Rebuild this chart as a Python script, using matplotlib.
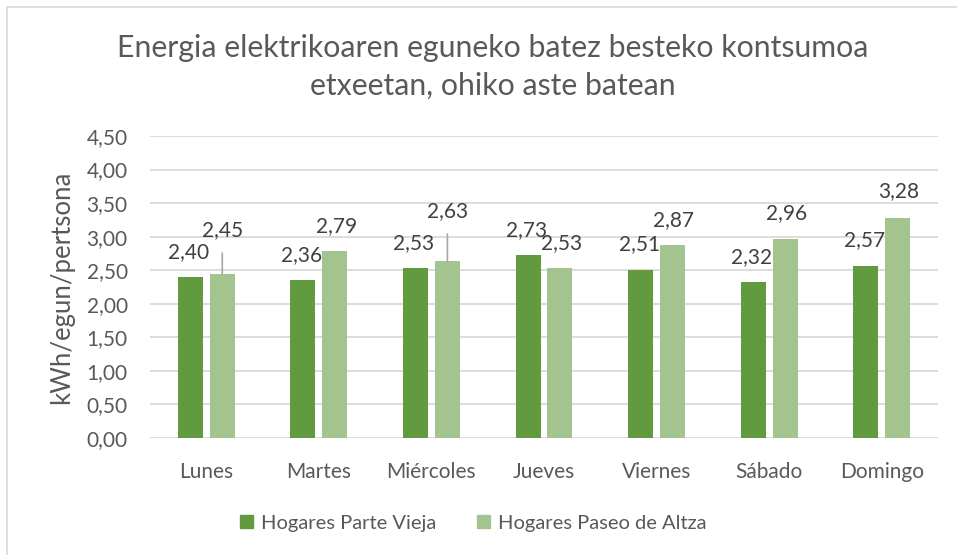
import matplotlib
matplotlib.use("Agg")
import matplotlib.pyplot as plt
from matplotlib.patches import Rectangle, Patch
import numpy as np

# Data
days = ["Lunes", "Martes", "Miércoles", "Jueves", "Viernes", "Sábado", "Domingo"]
parte_vieja = [2.40, 2.36, 2.53, 2.73, 2.51, 2.32, 2.57]
paseo_altza = [2.45, 2.79, 2.63, 2.53, 2.87, 2.96, 3.28]
series_names = ["Hogares Parte Vieja", "Hogares Paseo de Altza"]
yticks = [0, 0.5, 1, 1.5, 2, 2.5, 3, 3.5, 4, 4.5]

title = "Energia elektrikoaren eguneko batez besteko kontsumoa\netxeetan, ohiko aste batean"
ylabel = "kWh/egun/pertsona"

DARK = "#629A3F"
LIGHT = "#A3C48E"
TEXT = "#595959"
GRID = "#D9D9D9"

plt.rcParams["font.family"] = ["Lato", "DejaVu Sans"]

W, H = 957, 555
fig = plt.figure(figsize=(W / 100, H / 100), dpi=100)

# chart area border (only left/top visible in the crop)
fig.patches.append(Rectangle((7 / W, -0.1), 1.2, 1 - 7 / H + 0.1,
                             transform=fig.transFigure, fill=False,
                             edgecolor="#D9D9D9", linewidth=1.2))

# plot area in pixels: x 150..938, y 136..438
ax = fig.add_axes([150 / W, (H - 438) / H, (938 - 150) / W, (438 - 136) / H])

x = np.arange(len(days))
bw = 0.222
off = 0.142
ax.bar(x - off, parte_vieja, bw, color=DARK, zorder=3, label=series_names[0])
ax.bar(x + off, paseo_altza, bw, color=LIGHT, zorder=3, label=series_names[1])

ax.set_xlim(-0.5, len(days) - 0.5)
ax.set_ylim(0, 4.5)
ax.set_yticks(yticks)
ax.set_yticklabels([f"{v:.2f}".replace(".", ",") for v in yticks])
ax.set_xticks(x)
ax.set_xticklabels(days)
ax.grid(axis="y", color=GRID, linewidth=1.3, zorder=0)
for s in ax.spines.values():
    s.set_visible(False)
ax.tick_params(axis="both", length=0, colors=TEXT, labelsize=15)
ax.tick_params(axis="y", pad=16)
ax.tick_params(axis="x", pad=17)

ax.set_ylabel(ylabel, fontsize=18.5, color=TEXT, labelpad=9)

# data labels: raise in points above bar top (label centre); leader line when raised
raise_dark = [18, 18, 18, 18, 18, 18, 18]
raise_light = [31, 18, 36, 18, 18, 19, 19]
for i in range(len(days)):
    for xs, vals, rs, dx in ((x - off, parte_vieja, raise_dark, -1),
                             (x + off, paseo_altza, raise_light, 1)):
        v = vals[i]
        r = rs[i]
        props = None
        if r > 25:
            dx = 0
            props = dict(arrowstyle="-", color="#A6A6A6", lw=1.2,
                         shrinkA=7, shrinkB=0)
        ax.annotate(f"{v:.2f}".replace(".", ","), xy=(xs[i], v),
                    xytext=(dx, r), textcoords="offset points",
                    ha="center", va="center", fontsize=15, color="#404040",
                    arrowprops=props, zorder=4)

fig.text(493 / W, 1 - 67 / H, title, ha="center", va="center",
         fontsize=21.8, color=TEXT, linespacing=1.4)

handles = [Patch(color=DARK), Patch(color=LIGHT)]
fig.legend(handles, series_names, loc="center", bbox_to_anchor=(473 / W, 1 - 523 / H),
           ncol=2, frameon=False, fontsize=14.5, labelcolor=TEXT,
           handlelength=0.65, handleheight=0.65, handletextpad=0.4,
           columnspacing=2.0)

fig.savefig("out.png", dpi=100)
